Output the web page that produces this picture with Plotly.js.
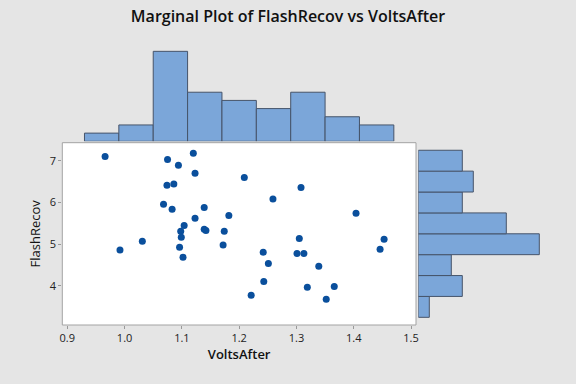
<!DOCTYPE html>
<html>
<head>
<meta charset="utf-8">
<script src="https://cdn.plot.ly/plotly-3.0.1.min.js"></script>
<style>html,body{margin:0;padding:0;background:#e5e5e5;}#chart{width:576px;height:384px;}</style>
</head>
<body>
<div id="chart"></div>
<script>
// VoltsAfter (x) and FlashRecov (y) for the 40 observations
const voltsAfter = [
  0.966, 1.120, 1.075, 1.094, 1.123, 1.074, 1.086, 1.068, 1.083, 1.139,
  1.123, 1.182, 1.104, 1.098, 1.139, 1.142, 1.174, 1.099, 1.031, 0.992,
  1.096, 1.172, 1.102, 1.209, 1.308, 1.259, 1.404, 1.305, 1.453, 1.446,
  1.242, 1.301, 1.313, 1.251, 1.339, 1.243, 1.319, 1.366, 1.221, 1.352
];
const flashRecov = [
  7.10, 7.18, 7.03, 6.89, 6.70, 6.41, 6.44, 5.96, 5.84, 5.88,
  5.62, 5.69, 5.45, 5.31, 5.36, 5.33, 5.31, 5.17, 5.07, 4.86,
  4.93, 4.98, 4.69, 6.60, 6.36, 6.08, 5.74, 5.14, 5.12, 4.88,
  4.81, 4.78, 4.78, 4.54, 4.47, 4.11, 3.97, 3.99, 3.78, 3.68
];
const xTickVals = [0.9, 1.0, 1.1, 1.2, 1.3, 1.4, 1.5];
const yTickVals = [4, 5, 6, 7];

const W = 576, H = 384;
const fx = p => p / W;
const fy = p => 1 - p / H;

const barFill = '#7ba6d9';
const barLine = '#46546a';
const font = 'Open Sans, Noto Sans, sans-serif';

const traces = [
  {
    type: 'scatter', mode: 'markers', x: voltsAfter, y: flashRecov,
    xaxis: 'x', yaxis: 'y',
    marker: {color: '#0a4f9c', size: 7, line: {width: 0}},
    hoverinfo: 'x+y'
  },
  {
    type: 'histogram', x: voltsAfter, xaxis: 'x', yaxis: 'y2',
    xbins: {start: 0.93, end: 1.47, size: 0.06}, autobinx: false,
    marker: {color: barFill, line: {color: barLine, width: 1}}
  },
  {
    type: 'histogram', y: flashRecov, orientation: 'h', xaxis: 'x2', yaxis: 'y',
    ybins: {start: 3.25, end: 7.25, size: 0.5}, autobiny: false,
    marker: {color: barFill, line: {color: barLine, width: 1}}
  }
];

const layout = {
  width: W, height: H,
  margin: {l: 0, r: 0, t: 0, b: 0},
  paper_bgcolor: '#e5e5e5',
  plot_bgcolor: 'rgba(0,0,0,0)',
  showlegend: false,
  bargap: 0,
  font: {family: font, color: '#222', size: 11},
  title: {
    text: 'Marginal Plot of FlashRecov vs VoltsAfter',
    x: 0.5, xanchor: 'center', y: fy(16), yanchor: 'middle',
    font: {family: font, size: 16, color: '#111', weight: 600}
  },
  xaxis: {
    domain: [fx(62.3), fx(416)],
    range: [0.8913, 1.5087],
    tickvals: xTickVals, tickformat: '.1f',
    ticks: 'outside', ticklen: 3, tickcolor: '#999',
    showgrid: false, zeroline: false, showline: false,
    tickfont: {size: 11, color: '#222'},
    title: {text: 'VoltsAfter', font: {size: 13, color: '#111', weight: 600}, standoff: 4},
    anchor: 'y'
  },
  yaxis: {
    domain: [fy(325), fy(142.7)],
    range: [3.066, 7.431],
    tickvals: yTickVals,
    ticks: 'outside', ticklen: 3, tickcolor: '#999',
    showgrid: false, zeroline: false, showline: false,
    tickfont: {size: 11, color: '#222'},
    title: {text: 'FlashRecov', font: {size: 13, color: '#111'}, standoff: 6},
    anchor: 'x'
  },
  yaxis2: {
    domain: [fy(141.3), fy(49.7)],
    range: [0, 11.2],
    visible: false, anchor: 'x'
  },
  xaxis2: {
    domain: [fx(418.3), fx(541.5)],
    range: [0, 11.2],
    visible: false, anchor: 'y'
  },
  shapes: [
    {type: 'rect', xref: 'x domain', yref: 'y domain', x0: 0, x1: 1, y0: 0, y1: 1,
     fillcolor: '#ffffff', line: {color: '#a3a3a3', width: 1}, layer: 'below'}
  ]
};

Plotly.newPlot('chart', traces, layout, {displayModeBar: false, staticPlot: true});
</script>
</body>
</html>
